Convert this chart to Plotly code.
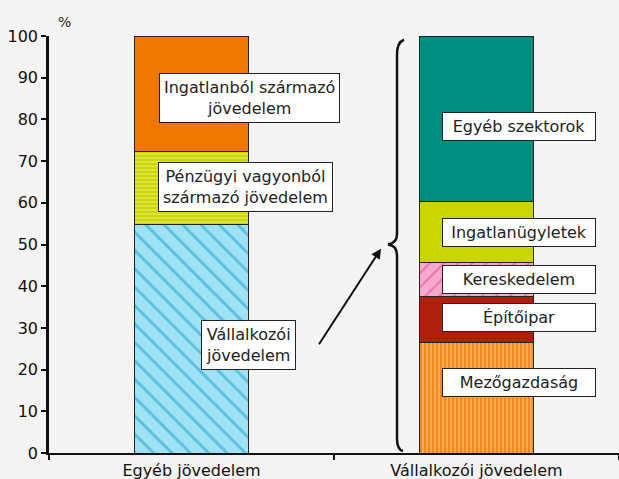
import plotly.graph_objects as go

# ── Adatok ────────────────────────────────────────────────
kategoriak = ["Egyéb jövedelem", "Vállalkozói jövedelem"]

# bal oszlop: jövedelemtípusok (%)
egyeb_nevek = ["Vállalkozói<br>jövedelem",
               "Pénzügyi vagyonból<br>származó jövedelem",
               "Ingatlanból származó<br>jövedelem"]
egyeb_ertekek = [54.8, 17.4, 27.8]

# jobb oszlop: vállalkozói jövedelem ágazatonként (%)
szektor_nevek = ["Mezőgazdaság", "Építőipar", "Kereskedelem",
                 "Ingatlanügyletek", "Egyéb szektorok"]
szektor_ertekek = [26.4, 11.2, 8.2, 14.4, 39.8]

# ── Stílusok ──────────────────────────────────────────────
egyeb_stilus = [
    dict(bgcolor="#9fe2f3", fgcolor="#0f9bd2", shape="\\", size=13, solidity=0.22),
    dict(bgcolor="#cdd600", fgcolor="#f3f5b0", shape="-", size=4, solidity=0.4),
    dict(bgcolor="#f07800", fgcolor="#f07800", shape="", size=4, solidity=0.4),
]
szektor_stilus = [
    dict(bgcolor="#f08a1c", fgcolor="#ffd9b0", shape="|", size=4, solidity=0.4),
    dict(bgcolor="#b01e0c", fgcolor="#b01e0c", shape="", size=4, solidity=0.4),
    dict(bgcolor="#f5a9cd", fgcolor="#e83a8e", shape="/", size=10, solidity=0.2),
    dict(bgcolor="#cbd600", fgcolor="#cbd600", shape="", size=4, solidity=0.4),
    dict(bgcolor="#008f7f", fgcolor="#008f7f", shape="", size=4, solidity=0.4),
]

BETU = "DejaVu Sans"
fig = go.Figure()

for nev, ertek, st in zip(egyeb_nevek, egyeb_ertekek, egyeb_stilus):
    fig.add_trace(go.Bar(
        x=[kategoriak[0]], y=[ertek], name=nev, width=0.4,
        marker=dict(color=st["bgcolor"], pattern=st,
                    line=dict(color="#222222", width=1)),
    ))
for nev, ertek, st in zip(szektor_nevek, szektor_ertekek, szektor_stilus):
    fig.add_trace(go.Bar(
        x=[kategoriak[1]], y=[ertek], name=nev, width=0.4,
        marker=dict(color=st["bgcolor"], pattern=st,
                    line=dict(color="#222222", width=1)),
    ))

# ── Címkék (fehér dobozok) ────────────────────────────────
def doboz(x, y, szoveg, width=None):
    fig.add_annotation(
        x=x, y=y, text=szoveg, showarrow=False, xref="x", yref="y",
        bgcolor="white", bordercolor="#222222", borderwidth=1,
        borderpad=4, width=width,
        font=dict(family=BETU, size=16, color="#222222"),
    )

bal_y = [25.9, 63.8, 85.1]
bal_x = [0.2, 0.19, 0.205]
for nev, x, y in zip(egyeb_nevek, bal_x, bal_y):
    doboz(x, y, nev)

jobb_y = [16.8, 32.6, 41.7, 52.8, 78.4]
for nev, y in zip(szektor_nevek, jobb_y):
    doboz(1.15, y, nev, width=144)

# nyíl a vállalkozói jövedelemtől a kapcsos zárójelhez
fig.add_annotation(
    x=0.665, y=sum(szektor_ertekek) / 2 - 1, xref="x", yref="y",
    ax=-63, ay=97, text="", showarrow=True,
    arrowhead=2, arrowsize=1, arrowwidth=2, arrowcolor="#111111",
)

# kapcsos zárójel (paper x, adat y)
osszes = sum(szektor_ertekek)
fel = osszes / 2
def px(p):
    return (p - 49) / 570
brace = (
    f"M {px(404)},{osszes - 0.9} "
    f"Q {px(397)},{osszes - 1.5} {px(397)},{osszes - 4.5} "
    f"L {px(397)},{fel + 2.5} "
    f"Q {px(397)},{fel + 0.3} {px(388)},{fel} "
    f"Q {px(397)},{fel - 0.3} {px(397)},{fel - 2.5} "
    f"L {px(397)},{3.5} "
    f"Q {px(397)},{0.8} {px(403)},{0.5}"
)
fig.add_shape(type="path", path=brace, xref="paper", yref="y",
              line=dict(color="#111111", width=2.5))

fig.add_annotation(x=0.012, y=1.01, xref="paper", yref="paper",
                   text="%", showarrow=False, xanchor="left", yanchor="bottom",
                   font=dict(family=BETU, size=14, color="#222222"))

fig.update_layout(
    barmode="stack",
    width=619, height=479,
    margin=dict(l=49, r=0, t=36, b=26),
    paper_bgcolor="#f5f4f2", plot_bgcolor="#f5f4f2",
    showlegend=False,
    font=dict(family=BETU, size=16, color="#111111"),
    xaxis=dict(showline=True, linecolor="#111111", linewidth=2,
               ticks="outside", tickson="boundaries", ticklen=5,
               tickwidth=2, tickcolor="#111111",
               range=[-0.5, 1.5], showgrid=False, automargin=False,
               tickfont=dict(size=16), ticklabelstandoff=2),
    yaxis=dict(range=[0, 100], dtick=10, showline=True,
               linecolor="#111111", linewidth=2.5, automargin=False,
               ticks="outside", ticklen=5, tickwidth=2, tickcolor="#111111",
               showgrid=False, zeroline=False,
               tickfont=dict(size=16)),
)

fig.write_html(
    "out.html",
    config={"displayModeBar": False},
    post_script="document.body.style.margin='0';"
                "document.body.style.overflow='hidden';"
                "document.body.style.background='#f5f4f2';",
)
